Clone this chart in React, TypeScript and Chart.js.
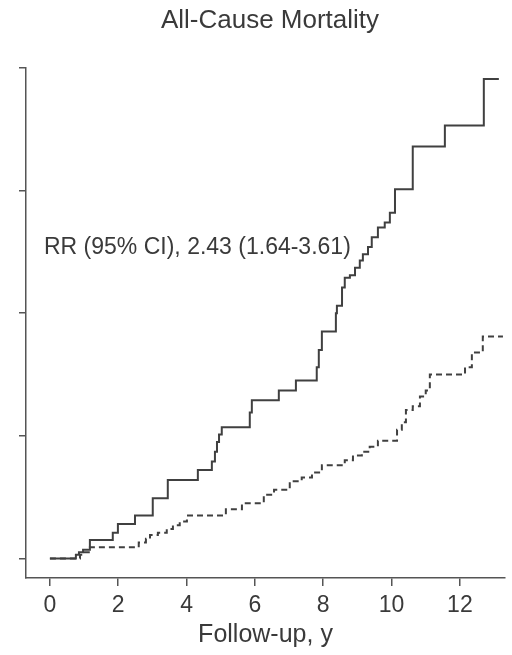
import React, { useEffect, useRef } from 'react';
import { Chart, registerables } from 'chart.js';

Chart.register(...registerables);

const titleText = 'All-Cause Mortality';
const annotationText = 'RR (95% CI), 2.43 (1.64-3.61)';
const xAxisTitle = 'Follow-up, y';
const xTickValues = [0, 2, 4, 6, 8, 10, 12];
const yTickValues = [0, 1, 2, 3, 4];

// Solid curve (higher-risk group): event times and cumulative values after each step
const solidTimes = [0, 0.76, 0.85, 0.97, 1.17, 1.84, 1.99, 2.49, 3.01, 3.45, 4.33, 4.74, 4.83, 4.89, 4.95, 5.03, 5.85, 5.91, 6.7, 7.2, 7.81, 7.87, 7.96, 8.37, 8.4, 8.55, 8.63, 8.78, 8.93, 9.07, 9.16, 9.31, 9.42, 9.6, 9.8, 9.95, 10.1, 10.62, 11.56, 12.7, 13.14];
const solidValues = [0, 0.03, 0.05, 0.07, 0.15, 0.21, 0.28, 0.35, 0.49, 0.64, 0.72, 0.79, 0.87, 0.95, 1.01, 1.07, 1.19, 1.29, 1.37, 1.45, 1.56, 1.7, 1.85, 2.0, 2.06, 2.21, 2.29, 2.31, 2.37, 2.43, 2.48, 2.54, 2.62, 2.7, 2.74, 2.82, 3.01, 3.36, 3.53, 3.91, 3.91];

// Dashed curve (reference group)
const dashedTimes = [0, 0.88, 0.97, 1.17, 2.6, 2.81, 2.93, 3.16, 3.42, 3.6, 3.8, 4.01, 5.15, 5.62, 6.26, 6.56, 7.02, 7.37, 7.67, 7.96, 8.63, 8.87, 9.13, 9.36, 9.6, 10.16, 10.3, 10.42, 10.62, 10.83, 11.0, 11.12, 12.15, 12.35, 12.67, 13.26];
const dashedValues = [0, 0.03, 0.05, 0.09, 0.13, 0.16, 0.19, 0.21, 0.24, 0.27, 0.3, 0.35, 0.4, 0.45, 0.52, 0.56, 0.63, 0.66, 0.7, 0.76, 0.8, 0.84, 0.87, 0.91, 0.96, 1.05, 1.11, 1.21, 1.24, 1.32, 1.37, 1.5, 1.56, 1.68, 1.81, 1.81];

const FONT = '"Liberation Sans", Arial, Helvetica, sans-serif';
const TEXT_COLOR = '#3a3a3a';
const LINE_COLOR = '#404040';
const AXIS_COLOR = '#555555';

const textPlugin = {
  id: 'textPlugin',
  afterDraw(chart: any) {
    const ctx = chart.ctx;
    ctx.save();
    ctx.fillStyle = TEXT_COLOR;
    ctx.textBaseline = 'middle';
    ctx.font = `26px ${FONT}`;
    ctx.textAlign = 'center';
    ctx.fillText(titleText, 270, 21);
    ctx.textAlign = 'left';
    ctx.font = `23px ${FONT}`;
    ctx.fillText(annotationText, 44, 248);
    ctx.restore();
  },
};

export default function App() {
  const canvasRef = useRef<HTMLCanvasElement | null>(null);

  useEffect(() => {
    document.body.style.margin = '0';
    const canvas = canvasRef.current;
    if (!canvas) return;
    const chart = new Chart(canvas, {
      type: 'line',
      data: {
        datasets: [
          {
            data: solidTimes.map((t, i) => ({ x: t, y: solidValues[i] })),
            stepped: 'before',
            borderColor: LINE_COLOR,
            borderWidth: 2,
            pointRadius: 0,
            fill: false,
          },
          {
            data: dashedTimes.map((t, i) => ({ x: t, y: dashedValues[i] })),
            stepped: 'before',
            borderColor: LINE_COLOR,
            borderWidth: 2,
            borderDash: [6, 4],
            pointRadius: 0,
            fill: false,
          },
        ],
      },
      options: {
        animation: false,
        responsive: false,
        devicePixelRatio: 1,
        layout: { padding: { top: 68, right: 7, left: 0, bottom: 0 } },
        plugins: {
          legend: { display: false },
          tooltip: { enabled: false },
          title: { display: false },
        },
        scales: {
          x: {
            type: 'linear',
            min: -0.7,
            max: 13.32,
            afterBuildTicks: (s: any) => {
              s.ticks = xTickValues.map((v) => ({ value: v }));
            },
            afterFit: (s: any) => {
              s.height = 77;
            },
            grid: {
              drawOnChartArea: false,
              drawTicks: true,
              tickLength: 8,
              color: AXIS_COLOR,
              lineWidth: 1.5,
            },
            border: { display: true, color: AXIS_COLOR, width: 1.5 },
            ticks: {
              autoSkip: false,
              maxRotation: 0,
              padding: 6,
              color: TEXT_COLOR,
              font: { family: FONT, size: 23 },
            },
            title: {
              display: true,
              text: xAxisTitle,
              color: TEXT_COLOR,
              font: { family: FONT, size: 25 },
              padding: { top: 0, bottom: 5 },
            },
          },
          y: {
            type: 'linear',
            min: -0.16,
            max: 4,
            afterBuildTicks: (s: any) => {
              s.ticks = yTickValues.map((v) => ({ value: v }));
            },
            afterFit: (s: any) => {
              s.width = 26;
            },
            grid: {
              drawOnChartArea: false,
              drawTicks: true,
              tickLength: 7,
              color: AXIS_COLOR,
              lineWidth: 1.5,
            },
            border: { display: true, color: AXIS_COLOR, width: 1.5 },
            ticks: { display: false },
          },
        },
      },
      plugins: [textPlugin],
    } as any);
    return () => chart.destroy();
  }, []);

  return (
    <div style={{ width: 512, height: 655, background: '#fff' }}>
      <canvas ref={canvasRef} width={512} height={655} style={{ display: 'block' }} />
    </div>
  );
}
